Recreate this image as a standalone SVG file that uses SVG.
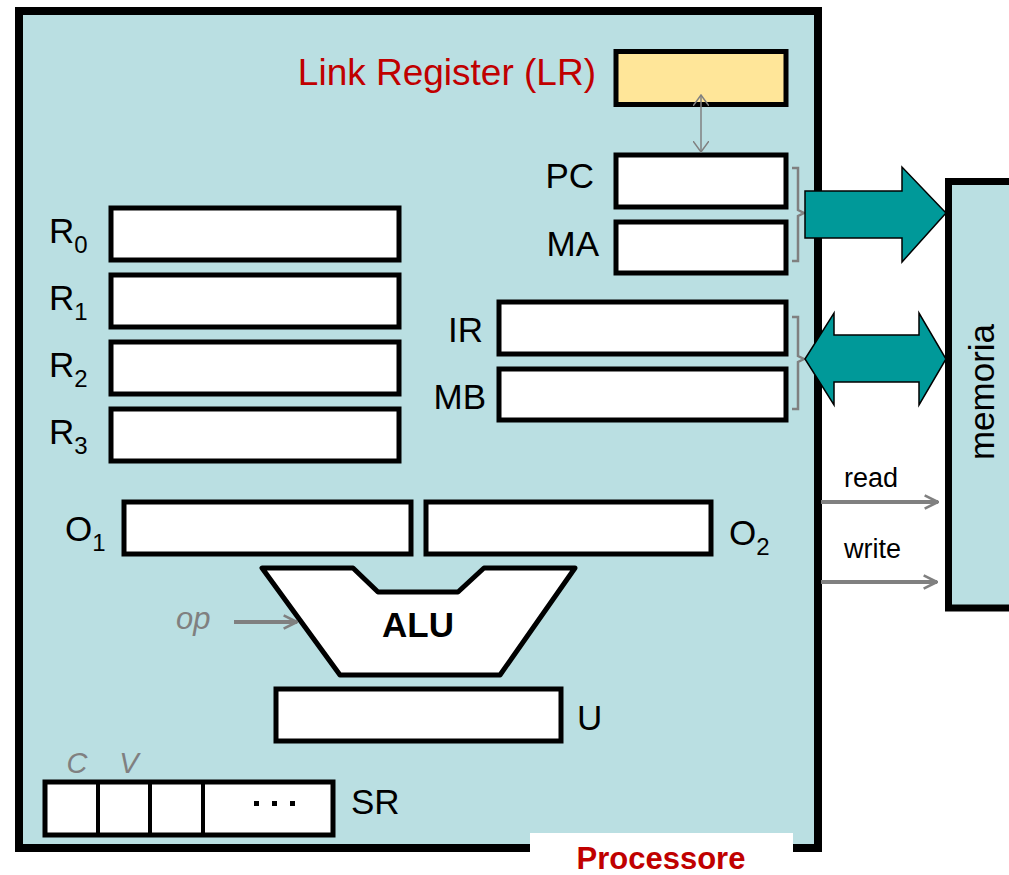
<svg xmlns="http://www.w3.org/2000/svg" width="1009" height="875" viewBox="0 0 1009 875">
  <style>
    .lbl { font-family: "Liberation Sans", Arial, sans-serif; font-size: 35px; fill: #000; }
    .sub { font-size: 24px; }
    .reg { fill: #fff; stroke: #000; stroke-width: 5; }
    .gray { font-family: "Liberation Sans", Arial, sans-serif; font-style: italic; fill: #808080; }
    .bus { fill: #009999; stroke: #000; stroke-width: 1.5; }
    .brace { fill: none; stroke: #808080; stroke-width: 2.5; }
    .sig { stroke: #808080; stroke-width: 4; fill: none; }
    .ctl { font-family: "Liberation Sans", Arial, sans-serif; font-size: 27px; fill: #000; }
  </style>
  <defs>
    <marker id="open" viewBox="0 0 12 12" refX="11" refY="6" markerWidth="4" markerHeight="4" orient="auto">
      <path d="M1,1 L11,6 L1,11" fill="none" stroke="#808080" stroke-width="2"/>
    </marker>
    <marker id="thinopen" viewBox="0 0 12 16" refX="11" refY="8" markerWidth="12" markerHeight="16" markerUnits="userSpaceOnUse" orient="auto-start-reverse">
      <path d="M0,0 L11,8 L0,16" fill="none" stroke="#808080" stroke-width="1.5"/>
    </marker>
  </defs>

  <rect width="1009" height="875" fill="#fff"/>

  <!-- processor body -->
  <g id="processor">
    <rect x="19" y="11" width="799" height="837" fill="#BADFE2" stroke="#000" stroke-width="8"/>
    <rect x="530" y="833" width="263" height="42" fill="#fff"/>
    <text x="661" y="869" text-anchor="middle" font-family="Liberation Sans, Arial, sans-serif" font-size="31" font-weight="bold" fill="#C00000">Processore</text>
  </g>

  <!-- memory -->
  <g id="memoria">
    <rect x="948.5" y="181.5" width="80" height="426.5" fill="#BADFE2" stroke="#000" stroke-width="7"/>
    <text class="lbl" transform="translate(994,392) rotate(-90)" text-anchor="middle">memoria</text>
  </g>

  <g id="lr">
    <rect x="616" y="51.5" width="170" height="53" fill="#FFE699" stroke="#000" stroke-width="5"/>
    <text class="lbl" x="596" y="85" text-anchor="end" style="fill:#C00000;font-size:37px">Link Register (LR)</text>
  </g>
  <g id="pc">
    <rect class="reg" x="616" y="155" width="170" height="52"/>
    <text class="lbl" x="594" y="188" text-anchor="end">PC</text>
  </g>
  <g id="ma">
    <rect class="reg" x="616" y="222" width="170" height="51"/>
    <text class="lbl" x="599" y="256" text-anchor="end">MA</text>
  </g>
  <g id="ir">
    <rect class="reg" x="499" y="302" width="287" height="52"/>
    <text class="lbl" x="483" y="342" text-anchor="end">IR</text>
  </g>
  <g id="mb">
    <rect class="reg" x="499" y="369" width="287" height="51"/>
    <text class="lbl" x="486" y="409" text-anchor="end">MB</text>
  </g>

  <g id="r0">
    <rect class="reg" x="111" y="208" width="288" height="52"/>
    <text class="lbl" x="49" y="243">R<tspan class="sub" dy="10">0</tspan></text>
  </g>
  <g id="r1">
    <rect class="reg" x="111" y="275" width="288" height="52"/>
    <text class="lbl" x="49" y="310">R<tspan class="sub" dy="10">1</tspan></text>
  </g>
  <g id="r2">
    <rect class="reg" x="111" y="342" width="288" height="52"/>
    <text class="lbl" x="49" y="377">R<tspan class="sub" dy="10">2</tspan></text>
  </g>
  <g id="r3">
    <rect class="reg" x="111" y="409" width="288" height="52"/>
    <text class="lbl" x="49" y="444">R<tspan class="sub" dy="10">3</tspan></text>
  </g>

  <g id="o1">
    <rect class="reg" x="124" y="502" width="287" height="52"/>
    <text class="lbl" x="65" y="541">O<tspan class="sub" dy="10">1</tspan></text>
  </g>
  <g id="o2">
    <rect class="reg" x="426" y="502" width="285" height="52"/>
    <text class="lbl" x="729" y="545">O<tspan class="sub" dy="10">2</tspan></text>
  </g>

  <g id="alu">
    <polygon points="262,568 353,568 378,592 458,592 484,568 575,568 500,675 340,675" fill="#fff" stroke="#000" stroke-width="5" stroke-linejoin="round"/>
    <text x="418" y="637" text-anchor="middle" font-family="Liberation Sans, Arial, sans-serif" font-size="35" font-weight="bold">ALU</text>
  </g>

  <g id="u">
    <rect class="reg" x="276" y="689" width="285" height="52"/>
    <text class="lbl" x="577" y="730">U</text>
  </g>

  <g id="sr">
    <rect class="reg" x="45" y="782" width="288" height="53"/>
    <line x1="98" y1="782" x2="98" y2="835" stroke="#000" stroke-width="4"/>
    <line x1="150" y1="782" x2="150" y2="835" stroke="#000" stroke-width="4"/>
    <line x1="203" y1="782" x2="203" y2="835" stroke="#000" stroke-width="4"/>
    <g fill="#000">
      <rect x="254" y="801" width="5" height="5"/>
      <rect x="272" y="801" width="5" height="5"/>
      <rect x="290" y="801" width="5" height="5"/>
    </g>
    <text class="gray" x="77" y="773" font-size="29" text-anchor="middle">C</text>
    <text class="gray" x="129" y="773" font-size="29" text-anchor="middle">V</text>
    <text class="lbl" x="351" y="814">SR</text>
  </g>

  <!-- connectors -->
  <g id="connectors">
    <!-- LR <-> PC -->
    <line x1="701" y1="95" x2="701" y2="152" stroke="#808080" stroke-width="1.5" marker-start="url(#thinopen)" marker-end="url(#thinopen)"/>

    <!-- braces grouping PC/MA and IR/MB -->
    <path class="brace" d="M792,168 H798 V210 L804,213 L798,216 V261 H792"/>
    <path class="brace" d="M792,317 H798 V356 L804,359 L798,362 V409 H792"/>

    <!-- address bus -->
    <polygon class="bus" points="805,191 902,191 902,167 946,213 902,262 902,238 805,238"/>
    <!-- data bus -->
    <polygon class="bus" points="805,359 834,313 834,335 919,335 919,313 946,359 919,405 919,382 834,382 834,405"/>

    <!-- control lines -->
    <line class="sig" x1="821" y1="502" x2="938" y2="502" marker-end="url(#open)"/>
    <text class="ctl" x="844" y="487">read</text>
    <line class="sig" x1="821" y1="582" x2="937" y2="582" marker-end="url(#open)"/>
    <text class="ctl" x="844" y="558">write</text>

    <!-- op input -->
    <line class="sig" x1="234" y1="622" x2="297" y2="622" stroke-width="3" marker-end="url(#open)"/>
    <text class="gray" x="176" y="629" font-size="31">op</text>
  </g>
</svg>
